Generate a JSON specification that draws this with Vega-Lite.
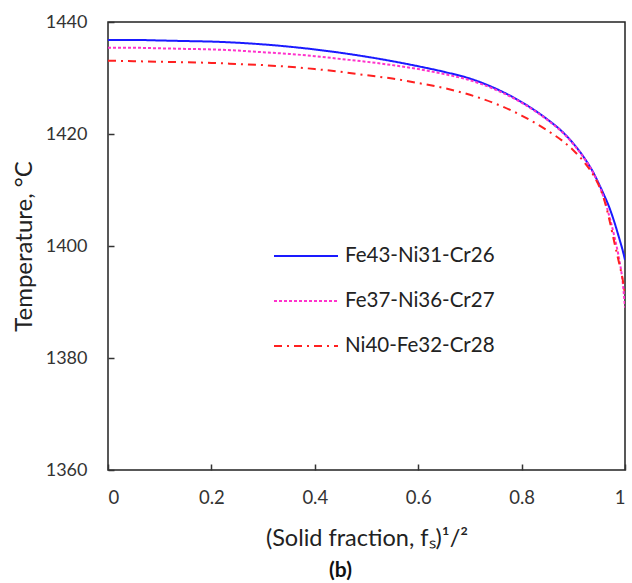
{
  "$schema": "https://vega.github.io/schema/vega-lite/v6.json",
  "width": 517,
  "height": 448,
  "autosize": {"type": "none"},
  "padding": {"left": 108, "top": 22, "right": 7, "bottom": 113},
  "background": "white",
  "config": {
    "view": {"stroke": "#222", "strokeWidth": 1.5},
    "font": "Lato",
    "axis": {"grid": false, "domain": false, "labelFont": "Lato", "titleFont": "Lato", "labelColor": "#333", "titleColor": "#222", "tickColor": "#333", "tickWidth": 1.5, "tickSize": -6, "titleFontWeight": "normal"}
  },
  "title": {"text": "(b)", "orient": "bottom", "anchor": "middle", "fontSize": 21, "fontWeight": "bold", "font": "Lato", "color": "#111", "offset": 10, "dx": -26},
  "data": {"values": [
    {"a": "Fe43-Ni31-Cr26", "x": 0, "t": 1436.8},
    {"a": "Fe43-Ni31-Cr26", "x": 0.05, "t": 1436.8},
    {"a": "Fe43-Ni31-Cr26", "x": 0.1, "t": 1436.7},
    {"a": "Fe43-Ni31-Cr26", "x": 0.15, "t": 1436.6},
    {"a": "Fe43-Ni31-Cr26", "x": 0.2, "t": 1436.5},
    {"a": "Fe43-Ni31-Cr26", "x": 0.25, "t": 1436.3},
    {"a": "Fe43-Ni31-Cr26", "x": 0.3, "t": 1436.0},
    {"a": "Fe43-Ni31-Cr26", "x": 0.35, "t": 1435.6},
    {"a": "Fe43-Ni31-Cr26", "x": 0.4, "t": 1435.1},
    {"a": "Fe43-Ni31-Cr26", "x": 0.45, "t": 1434.5},
    {"a": "Fe43-Ni31-Cr26", "x": 0.5, "t": 1433.8},
    {"a": "Fe43-Ni31-Cr26", "x": 0.55, "t": 1433.0},
    {"a": "Fe43-Ni31-Cr26", "x": 0.6, "t": 1432.1},
    {"a": "Fe43-Ni31-Cr26", "x": 0.65, "t": 1431.1},
    {"a": "Fe43-Ni31-Cr26", "x": 0.7, "t": 1429.9},
    {"a": "Fe43-Ni31-Cr26", "x": 0.75, "t": 1428.1},
    {"a": "Fe43-Ni31-Cr26", "x": 0.8, "t": 1425.7},
    {"a": "Fe43-Ni31-Cr26", "x": 0.85, "t": 1422.6},
    {"a": "Fe43-Ni31-Cr26", "x": 0.88, "t": 1420.3},
    {"a": "Fe43-Ni31-Cr26", "x": 0.9, "t": 1418.3},
    {"a": "Fe43-Ni31-Cr26", "x": 0.92, "t": 1415.9},
    {"a": "Fe43-Ni31-Cr26", "x": 0.94, "t": 1412.9},
    {"a": "Fe43-Ni31-Cr26", "x": 0.95, "t": 1411.0},
    {"a": "Fe43-Ni31-Cr26", "x": 0.96, "t": 1409.0},
    {"a": "Fe43-Ni31-Cr26", "x": 0.97, "t": 1406.8},
    {"a": "Fe43-Ni31-Cr26", "x": 0.98, "t": 1404.1},
    {"a": "Fe43-Ni31-Cr26", "x": 0.99, "t": 1401.0},
    {"a": "Fe43-Ni31-Cr26", "x": 0.995, "t": 1399.4},
    {"a": "Fe43-Ni31-Cr26", "x": 1.0, "t": 1397.5},
    {"a": "Fe37-Ni36-Cr27", "x": 0, "t": 1435.4},
    {"a": "Fe37-Ni36-Cr27", "x": 0.05, "t": 1435.4},
    {"a": "Fe37-Ni36-Cr27", "x": 0.1, "t": 1435.3},
    {"a": "Fe37-Ni36-Cr27", "x": 0.15, "t": 1435.2},
    {"a": "Fe37-Ni36-Cr27", "x": 0.2, "t": 1435.1},
    {"a": "Fe37-Ni36-Cr27", "x": 0.25, "t": 1434.9},
    {"a": "Fe37-Ni36-Cr27", "x": 0.3, "t": 1434.6},
    {"a": "Fe37-Ni36-Cr27", "x": 0.35, "t": 1434.3},
    {"a": "Fe37-Ni36-Cr27", "x": 0.4, "t": 1433.9},
    {"a": "Fe37-Ni36-Cr27", "x": 0.45, "t": 1433.4},
    {"a": "Fe37-Ni36-Cr27", "x": 0.5, "t": 1432.9},
    {"a": "Fe37-Ni36-Cr27", "x": 0.55, "t": 1432.3},
    {"a": "Fe37-Ni36-Cr27", "x": 0.6, "t": 1431.6},
    {"a": "Fe37-Ni36-Cr27", "x": 0.65, "t": 1430.7},
    {"a": "Fe37-Ni36-Cr27", "x": 0.7, "t": 1429.6},
    {"a": "Fe37-Ni36-Cr27", "x": 0.75, "t": 1427.9},
    {"a": "Fe37-Ni36-Cr27", "x": 0.8, "t": 1425.6},
    {"a": "Fe37-Ni36-Cr27", "x": 0.85, "t": 1422.5},
    {"a": "Fe37-Ni36-Cr27", "x": 0.88, "t": 1420.2},
    {"a": "Fe37-Ni36-Cr27", "x": 0.9, "t": 1418.2},
    {"a": "Fe37-Ni36-Cr27", "x": 0.92, "t": 1415.8},
    {"a": "Fe37-Ni36-Cr27", "x": 0.94, "t": 1412.8},
    {"a": "Fe37-Ni36-Cr27", "x": 0.95, "t": 1410.8},
    {"a": "Fe37-Ni36-Cr27", "x": 0.96, "t": 1408.4},
    {"a": "Fe37-Ni36-Cr27", "x": 0.97, "t": 1405.2},
    {"a": "Fe37-Ni36-Cr27", "x": 0.98, "t": 1401.5},
    {"a": "Fe37-Ni36-Cr27", "x": 0.99, "t": 1397.0},
    {"a": "Fe37-Ni36-Cr27", "x": 0.995, "t": 1394.0},
    {"a": "Fe37-Ni36-Cr27", "x": 1.0, "t": 1389.0},
    {"a": "Ni40-Fe32-Cr28", "x": 0, "t": 1433.1},
    {"a": "Ni40-Fe32-Cr28", "x": 0.05, "t": 1433.0},
    {"a": "Ni40-Fe32-Cr28", "x": 0.1, "t": 1432.9},
    {"a": "Ni40-Fe32-Cr28", "x": 0.15, "t": 1432.8},
    {"a": "Ni40-Fe32-Cr28", "x": 0.2, "t": 1432.7},
    {"a": "Ni40-Fe32-Cr28", "x": 0.25, "t": 1432.5},
    {"a": "Ni40-Fe32-Cr28", "x": 0.3, "t": 1432.3},
    {"a": "Ni40-Fe32-Cr28", "x": 0.35, "t": 1432.0},
    {"a": "Ni40-Fe32-Cr28", "x": 0.4, "t": 1431.6},
    {"a": "Ni40-Fe32-Cr28", "x": 0.45, "t": 1431.1},
    {"a": "Ni40-Fe32-Cr28", "x": 0.5, "t": 1430.5},
    {"a": "Ni40-Fe32-Cr28", "x": 0.55, "t": 1429.9},
    {"a": "Ni40-Fe32-Cr28", "x": 0.6, "t": 1429.1},
    {"a": "Ni40-Fe32-Cr28", "x": 0.65, "t": 1428.2},
    {"a": "Ni40-Fe32-Cr28", "x": 0.7, "t": 1427.0},
    {"a": "Ni40-Fe32-Cr28", "x": 0.75, "t": 1425.4},
    {"a": "Ni40-Fe32-Cr28", "x": 0.8, "t": 1423.3},
    {"a": "Ni40-Fe32-Cr28", "x": 0.85, "t": 1420.6},
    {"a": "Ni40-Fe32-Cr28", "x": 0.88, "t": 1418.7},
    {"a": "Ni40-Fe32-Cr28", "x": 0.9, "t": 1417.1},
    {"a": "Ni40-Fe32-Cr28", "x": 0.92, "t": 1415.1},
    {"a": "Ni40-Fe32-Cr28", "x": 0.94, "t": 1412.5},
    {"a": "Ni40-Fe32-Cr28", "x": 0.95, "t": 1410.7},
    {"a": "Ni40-Fe32-Cr28", "x": 0.96, "t": 1408.2},
    {"a": "Ni40-Fe32-Cr28", "x": 0.97, "t": 1404.6},
    {"a": "Ni40-Fe32-Cr28", "x": 0.98, "t": 1400.4},
    {"a": "Ni40-Fe32-Cr28", "x": 0.99, "t": 1396.4},
    {"a": "Ni40-Fe32-Cr28", "x": 0.995, "t": 1394.3},
    {"a": "Ni40-Fe32-Cr28", "x": 1.0, "t": 1391.5}
  ]},
  "mark": {"type": "line", "strokeWidth": 2, "interpolate": "monotone", "clip": true},
  "encoding": {
    "x": {"field": "x", "type": "quantitative", "scale": {"domain": [0, 1], "nice": false},
      "axis": {"values": [0, 0.2, 0.4, 0.6, 0.8, 1], "format": "~g", "labelFontSize": 18.5, "labelPadding": 24, "title": "(Solid fraction, fₛ)¹/²", "titleFontSize": 23.5, "titlePadding": 20}},
    "y": {"field": "t", "type": "quantitative", "scale": {"domain": [1360, 1440], "nice": false, "zero": false},
      "axis": {"values": [1360, 1380, 1400, 1420, 1440], "format": "d", "labelFontSize": 18, "labelPadding": 27, "title": "Temperature, °C", "titleFontSize": 24, "titlePadding": 9}},
    "color": {"field": "a", "type": "nominal",
      "scale": {"domain": ["Fe43-Ni31-Cr26", "Fe37-Ni36-Cr27", "Ni40-Fe32-Cr28"], "range": ["#1a1aff", "#ff33cc", "#ff2020"]},
      "legend": {"title": null, "orient": "none", "legendX": 165, "legendY": 224, "symbolType": "stroke", "symbolSize": 4096, "symbolStrokeWidth": 2, "clipHeight": 20, "rowPadding": 24, "labelFontSize": 20.5, "labelFont": "Lato", "labelColor": "#222", "labelOffset": 6, "labelLimit": 400}},
    "strokeDash": {"field": "a", "type": "nominal",
      "scale": {"domain": ["Fe43-Ni31-Cr26", "Fe37-Ni36-Cr27", "Ni40-Fe32-Cr28"], "range": [[1, 0], [3, 2], [8, 5, 2, 5]]},
      "legend": {"title": null, "orient": "none", "legendX": 165, "legendY": 224, "symbolType": "stroke", "symbolSize": 4096, "symbolStrokeWidth": 2, "clipHeight": 20, "rowPadding": 24, "labelFontSize": 20.5, "labelFont": "Lato", "labelColor": "#222", "labelOffset": 6, "labelLimit": 400}}
  }
}
